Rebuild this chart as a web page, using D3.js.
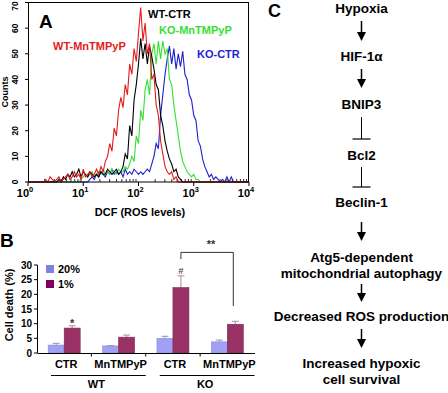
<!DOCTYPE html>
<html><head><meta charset="utf-8">
<script src="https://cdn.jsdelivr.net/npm/d3@7"></script>
<style>body{margin:0;background:#fff}svg{display:block}</style>
</head><body>
<script>
// ---------- Panel A data (flow histogram, channel = log10 step) ----------
const channelLogStep = 0.04;
const channelCount = 101;
const histColors = ["#1f1fcf","#33e033","#000000","#e41a1c"];
const koCtrStart = 28;
const koCtrCounts = [1,2,1,3,2,4,3,2,4,3,5,3,4,3,4,2,5,3,4,3,5,4,3,4,3,4,5,
  4,7,10,15,13,26,34,42,48,53,46,52,44,50,45,51,42,40,34,32,26,24,16,14,9,6,4,2,3,1,2,1,0,1,0,2,0,2];
const koMnStart = 24;
const koMnCounts = [1,2,3,2,3,4,2,3,4,3,5,3,4,3,5,4,3,5,4,4,6,5,
  7,10,8,18,15,28,24,36,40,34,50,54,46,55,48,55,50,52,40,38,30,24,18,12,8,6,4,3,2,3,1,1];
const wtCtrStart = 14;
const wtCtrCounts = [1,0,2,1,3,2,4,2,3,5,2,4,3,2,4,3,2,3,2,4,3,3,5,4,3,4,5,3,4,
  6,11,9,22,18,32,38,46,56,48,54,46,53,49,44,38,36,26,22,16,12,9,7,4,5,2,1];
const wtMnStart = 8;
const wtMnCounts = [1,0,2,1,0,1,2,0,1,2,3,1,2,4,2,3,1,5,2,3,4,2,3,5,3,6,4,8,
  10,15,12,21,18,28,33,29,38,34,46,42,52,47,58,68,55,62,50,54,40,42,30,26,16,11,6,4,3,4,1,2];
const histLabelText = ["WT-CTR","KO-MnTMPyP","WT-MnTMPyP","KO-CTR"];
const histLabelColor = ["#000000","#33e033","#e41a1c","#1f1fcf"];
const countTicks = [0,10,20,30,40,50,60,70];
const decadeTicks = [1,10,100,1000,10000];
const decadeExp = ["0","1","2","3","4"];

// ---------- Panel B data ----------
const barCategories = ["WT CTR","WT MnTMPyP","KO CTR","KO MnTMPyP"];
const barLabels = ["CTR","MnTMPyP","CTR","MnTMPyP"];
const groupNames = ["WT","KO"];
const oxygenLevels = ["20%","1%"];
const death20 = [2.7, 2.4, 5.0, 3.8];
const death20Err = [0.6, 0.1, 0.7, 0.6];
const death1 = [8.5, 5.4, 22.3, 9.8];
const death1Err = [0.8, 0.7, 4.0, 1.0];
const deathTicks = [0,5,10,15,20,25,30];

// ---------- Panel C data ----------
const pathwaySteps = ["Hypoxia","HIF-1α","BNIP3","Bcl2","Beclin-1",
  ["Atg5-dependent","mitochondrial autophagy"],"Decreased ROS production",["Increased hypoxic","cell survival"]];
const pathwayLinks = ["arrow","arrow","inhibit","inhibit","arrow","arrow","arrow"];

const svg = d3.select("body").append("svg").attr("width",448).attr("height",393)
  .style("font-family","'Liberation Sans', Arial, Helvetica, sans-serif").style("font-weight","bold");

// ================= Panel A =================
const xA = d3.scaleLog().domain([1,1e4]).range([28,249]);
const yA = d3.scaleLinear().domain([0,70]).range([182,2.5]);
const gA = svg.append("g");
svg.append("defs").append("clipPath").attr("id","clipA").append("rect")
  .attr("x",28).attr("y",2).attr("width",221).attr("height",181);

const minorVals = [];
for (let d=0; d<4; d++) for (let k=2;k<=9;k++) minorVals.push(k*Math.pow(10,d));
gA.selectAll("line.minor").data(minorVals).join("line")
  .attr("x1",d=>xA(d)).attr("x2",d=>xA(d)).attr("y1",182).attr("y2",179)
  .attr("stroke","#000").attr("stroke-width",0.8);
gA.selectAll("line.major").data(decadeTicks).join("line")
  .attr("x1",d=>xA(d)).attr("x2",d=>xA(d)).attr("y1",182).attr("y2",186)
  .attr("stroke","#000").attr("stroke-width",1);

function fullSeries(start, counts){
  const arr = [];
  for (let i=0;i<channelCount;i++){
    const j = i-start;
    arr.push({v: Math.pow(10, i*channelLogStep), c: (j>=0 && j<counts.length) ? counts[j] : 0});
  }
  return arr;
}
const seriesList = [fullSeries(koCtrStart,koCtrCounts), fullSeries(koMnStart,koMnCounts),
  fullSeries(wtCtrStart,wtCtrCounts), fullSeries(wtMnStart,wtMnCounts)];
const lineA = d3.line().x(d=>xA(d.v)).y(d=>yA(d.c));
gA.append("g").attr("clip-path","url(#clipA)").selectAll("path").data(seriesList).join("path")
  .attr("d",lineA).attr("fill","none").attr("stroke",(d,i)=>histColors[i]).attr("stroke-width",1.1);

gA.append("rect").attr("x",28.5).attr("y",2.5).attr("width",220).attr("height",179.5)
  .attr("fill","none").attr("stroke","#000").attr("stroke-width",1);

gA.selectAll("line.yt").data(countTicks).join("line")
  .attr("x1",25).attr("x2",28).attr("y1",d=>yA(d)).attr("y2",d=>yA(d)).attr("stroke","#000");
gA.selectAll("text.yl").data(countTicks).join("text")
  .attr("transform",d=>`translate(18,${Math.max(yA(d),6)}) rotate(-90)`).attr("text-anchor","middle")
  .attr("font-size",8.5).text(d=>d);
gA.append("text").attr("transform","translate(8,92) rotate(-90)").attr("text-anchor","middle")
  .attr("font-size",9).text("Counts");

const xl = gA.selectAll("text.xl").data(decadeTicks).join("text")
  .attr("x",d=>xA(d)-3).attr("y",197).attr("text-anchor","middle").attr("font-size",11);
xl.append("tspan").text("10");
xl.append("tspan").attr("dy",-5).attr("font-size",7.5).text((d,i)=>decadeExp[i]);
gA.append("text").attr("x",140).attr("y",216).attr("text-anchor","middle").attr("font-size",11)
  .text("DCF (ROS levels)");
gA.append("text").attr("x",39).attr("y",28).attr("font-size",19).text("A");

const labelPos = [[148,18],[159,34],[53,50],[197,58]];
gA.selectAll("text.hl").data(histLabelText).join("text")
  .attr("x",(d,i)=>labelPos[i][0]).attr("y",(d,i)=>labelPos[i][1])
  .attr("font-size",11).attr("fill",(d,i)=>histLabelColor[i]).text(d=>d);

// ================= Panel B =================
const gB = svg.append("g");
const xB = d3.scaleBand().domain(barCategories).range([37,254.5]).padding(0);
const xSub = d3.scaleBand().domain(oxygenLevels).range([0,xB.bandwidth()]).paddingInner(0).paddingOuter(0.7);
const yB = d3.scaleLinear().domain([0,30]).range([353,265]);
const barFill = {"20%":"#a0a0f4","1%":"#993366"};
const barStroke = {"20%":"#8a8ae0","1%":"#7a2850"};
const errColor = {"20%":"#9090c8","1%":"#b08898"};
const legendFill = {"20%":"#8080e0","1%":"#800060"};

const barData = [];
barCategories.forEach((c,i)=>{
  barData.push({cat:c, lvl:"20%", v:death20[i], e:death20Err[i]});
  barData.push({cat:c, lvl:"1%", v:death1[i], e:death1Err[i]});
});
gB.selectAll("g.err").data(barData).join("g").each(function(d){
  const cx = xB(d.cat)+xSub(d.lvl)+xSub.bandwidth()/2;
  const g = d3.select(this);
  g.append("line").attr("x1",cx).attr("x2",cx).attr("y1",yB(d.v)).attr("y2",yB(d.v+d.e))
    .attr("stroke",errColor[d.lvl]).attr("stroke-width",1);
  g.append("line").attr("x1",cx-3.5).attr("x2",cx+3.5).attr("y1",yB(d.v+d.e)).attr("y2",yB(d.v+d.e))
    .attr("stroke",errColor[d.lvl]).attr("stroke-width",1);
});
gB.selectAll("rect.bar").data(barData).join("rect")
  .attr("x",d=>xB(d.cat)+xSub(d.lvl)).attr("width",xSub.bandwidth())
  .attr("y",d=>yB(d.v)).attr("height",d=>yB(0)-yB(d.v))
  .attr("fill",d=>barFill[d.lvl]).attr("stroke",d=>barStroke[d.lvl]).attr("stroke-width",0.6);

gB.append("line").attr("x1",37.5).attr("x2",37.5).attr("y1",yB(30)).attr("y2",yB(0)).attr("stroke","#000");
gB.append("line").attr("x1",37.5).attr("x2",255).attr("y1",yB(0)+0.5).attr("y2",yB(0)+0.5).attr("stroke","#000");
gB.selectAll("line.yt").data(deathTicks).join("line")
  .attr("x1",34).attr("x2",37.5).attr("y1",d=>yB(d)).attr("y2",d=>yB(d)).attr("stroke","#000");
gB.selectAll("text.yl").data(deathTicks).join("text")
  .attr("x",32).attr("y",d=>yB(d)+3.5).attr("text-anchor","end").attr("font-size",10).text(d=>d);
gB.selectAll("line.xt").data(barCategories.slice(1)).join("line")
  .attr("x1",d=>xB(d)).attr("x2",d=>xB(d)).attr("y1",yB(0)).attr("y2",yB(0)+3.5).attr("stroke","#000");
gB.selectAll("text.xl").data(barCategories).join("text")
  .attr("x",(d)=>xB(d)+xB.bandwidth()/2+2).attr("y",368).attr("text-anchor","middle")
  .attr("font-size",11).text((d,i)=>barLabels[i]);
groupNames.forEach((gname,gi)=>{
  const x0 = xB(barCategories[gi*2])+14, x1 = xB(barCategories[gi*2+1])+xB.bandwidth();
  gB.append("line").attr("x1",x0).attr("x2",x1).attr("y1",375.5).attr("y2",375.5).attr("stroke","#000");
  gB.append("text").attr("x",(x0+x1)/2-2).attr("y",388).attr("text-anchor","middle").attr("font-size",11).text(gname);
});
gB.append("text").attr("transform","translate(13,305) rotate(-90)").attr("text-anchor","middle")
  .attr("font-size",11).text("Cell death (%)");
gB.append("text").attr("x",0).attr("y",247).attr("font-size",19).text("B");
oxygenLevels.forEach((l,i)=>{
  gB.append("rect").attr("x",46).attr("y",265+i*15).attr("width",8).attr("height",8).attr("fill",legendFill[l]);
  gB.append("text").attr("x",58).attr("y",273+i*15).attr("font-size",11).text(l);
});
const cx1 = c => xB(c)+xSub("1%")+xSub.bandwidth()/2;
gB.append("text").attr("x",cx1("WT CTR")).attr("y",yB(death1[0]+death1Err[0])+1.5).attr("text-anchor","middle")
  .attr("font-size",11).attr("fill","#333").text("*");
gB.append("text").attr("x",cx1("KO CTR")).attr("y",yB(death1[2]+death1Err[2])-2).attr("text-anchor","middle")
  .attr("font-size",9.5).attr("fill","#555").text("#");
const bTop = 34.3, bLeft = 32.0, bRight = 16.0;
gB.append("path").attr("d",`M${cx1("KO CTR")},${yB(bLeft)}V${yB(bTop)}H${cx1("KO MnTMPyP")-2}V${yB(bRight)}`)
  .attr("fill","none").attr("stroke","#333").attr("stroke-width",1);
gB.append("text").attr("x",(cx1("KO CTR")+cx1("KO MnTMPyP"))/2+3).attr("y",248).attr("text-anchor","middle")
  .attr("font-size",11).attr("fill","#333").text("**");

// ================= Panel C =================
const gC = svg.append("g");
const cxC = 361.5;
gC.append("text").attr("x",268).attr("y",17).attr("font-size",18).text("C");
const stepBaselines = [13, 61, 109, 160, 207, [262,278], 321, [368,384]];
pathwaySteps.forEach((s,i)=>{
  const lines = Array.isArray(s) ? s : [s];
  const bl = Array.isArray(stepBaselines[i]) ? stepBaselines[i] : [stepBaselines[i]];
  lines.forEach((t,j)=>gC.append("text").attr("x",cxC).attr("y",bl[j]).attr("text-anchor","middle")
    .attr("font-size",13.5).text(t));
});
const linkSpans = [[21,41],[69,88],[117,139],[167,187],[222,241],[284,302],[329,348]];
pathwayLinks.forEach((k,i)=>{
  const [y0,y1] = linkSpans[i];
  if (k==="arrow"){
    gC.append("line").attr("x1",cxC).attr("x2",cxC).attr("y1",y0).attr("y2",y1-6).attr("stroke","#000").attr("stroke-width",1.5);
    gC.append("path").attr("d",`M${cxC-4.5},${y1-9}L${cxC+4.5},${y1-9}L${cxC},${y1}Z`).attr("fill","#000");
  } else {
    gC.append("line").attr("x1",cxC).attr("x2",cxC).attr("y1",y0).attr("y2",y1).attr("stroke","#000").attr("stroke-width",1);
    gC.append("line").attr("x1",cxC-9).attr("x2",cxC+9).attr("y1",y1).attr("y2",y1).attr("stroke","#000").attr("stroke-width",1.2);
  }
});
</script>
</body></html>
